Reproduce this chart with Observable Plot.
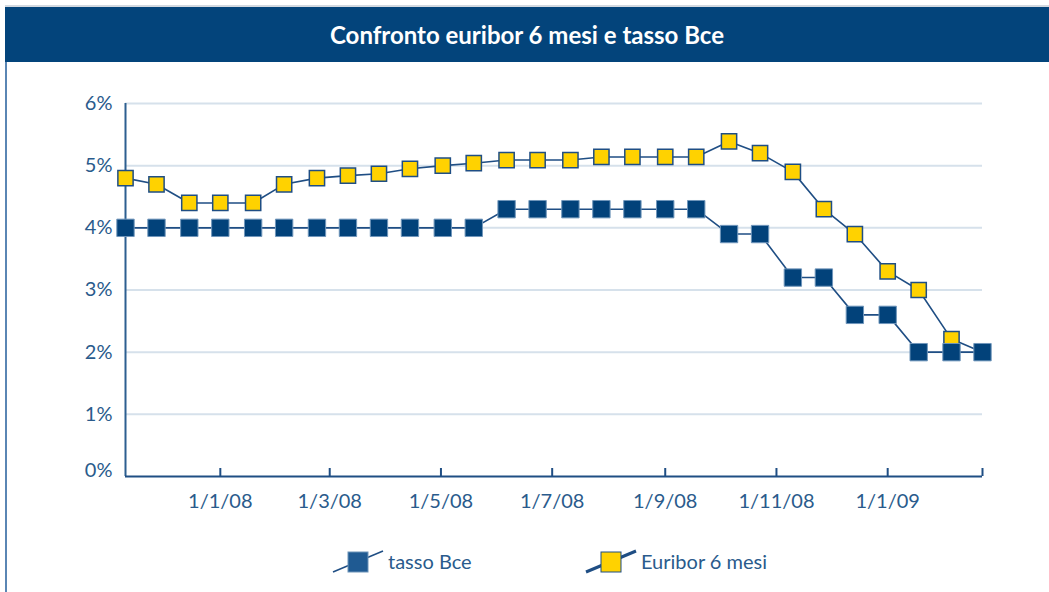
<!DOCTYPE html>
<html>
<head>
<meta charset="utf-8">
<script src="https://cdn.jsdelivr.net/npm/d3@7"></script>
<script src="https://cdn.jsdelivr.net/npm/@observablehq/plot@0.6"></script>
<style>
  html, body { margin: 0; padding: 0; background: #fff; }
  body { width: 1049px; height: 592px; position: relative; overflow: hidden; font-family: Lato, "Open Sans", sans-serif; }
  #topline { position: absolute; left: 5px; top: 5px; width: 1044px; height: 2px; background: #d3d9e0; }
  #title { position: absolute; left: 5px; top: 7px; width: 1044px; height: 55px; background: #03447b; color: #fff;
           font-weight: 700; font-size: 24px; display: flex; align-items: center; justify-content: center; padding-bottom: 1px; box-sizing: border-box; }
  #leftborder { position: absolute; left: 5px; top: 62px; width: 2px; height: 530px; background: #5a86b4; }
  #chart { position: absolute; left: 0; top: 62px; }
  #legend { position: absolute; left: 0; top: 530px; }
</style>
</head>
<body>
<div id="topline"></div>
<div id="title">Confronto euribor 6 mesi e tasso Bce</div>
<div id="leftborder"></div>
<div id="chart"></div>
<div id="legend"></div>
<script>
// ---- data ----
const dates = ["2007-11-10","2007-11-27","2007-12-15","2008-01-01","2008-01-19","2008-02-05","2008-02-23",
  "2008-03-11","2008-03-28","2008-04-14","2008-05-02","2008-05-19","2008-06-06","2008-06-23","2008-07-11",
  "2008-07-28","2008-08-14","2008-09-01","2008-09-18","2008-10-06","2008-10-23","2008-11-10","2008-11-27",
  "2008-12-14","2009-01-01","2009-01-18","2009-02-05","2009-02-22"];
const tassoBce = [4,4,4,4,4,4,4,4,4,4,4,4,4.3,4.3,4.3,4.3,4.3,4.3,4.3,3.9,3.9,3.2,3.2,2.6,2.6,2,2,2];
const euribor6 = [4.8,4.7,4.4,4.4,4.4,4.7,4.8,4.84,4.87,4.95,5.0,5.04,5.09,5.09,5.09,5.14,5.14,5.14,5.14,5.39,5.2,4.9,4.3,3.9,3.3,3.0,2.21,2.0];
const seriesNames = ["tasso Bce", "Euribor 6 mesi"];
const xTickDates = ["2008-01-01","2008-03-01","2008-05-01","2008-07-01","2008-09-01","2008-11-01","2009-01-01"];
const xTickLabels = ["1/1/08","1/3/08","1/5/08","1/7/08","1/9/08","1/11/08","1/1/09"];
const yTicks = [0,1,2,3,4,5,6];
const yTickLabels = ["0%","1%","2%","3%","4%","5%","6%"];

// ---- styles ----
const navy = "#1f4e84";
const bceFill = "#02427a";
const eurFill = "#ffd200";
const gridColor = "#d6e1eb";
const textColor = "#2a5b8c";

const parse = d3.utcParse("%Y-%m-%d");
const rows = dates.map((d, i) => ({date: parse(d), bce: tassoBce[i], eur: euribor6[i]}));
const tickDates = xTickDates.map(parse);
const labelMap = new Map(tickDates.map((d, i) => [+d, xTickLabels[i]]));
const xStart = rows[0].date, xEnd = rows[rows.length - 1].date;
const yFmt = v => yTickLabels[yTicks.indexOf(v)];

const chart = Plot.plot({
  width: 1049, height: 460,
  marginLeft: 125, marginRight: 67, marginTop: 41, marginBottom: 46,
  style: {fontFamily: "Lato, 'Open Sans', sans-serif", fontSize: "20px", color: textColor, background: "transparent", overflow: "visible"},
  x: {type: "utc", domain: [xStart, xEnd], label: null},
  y: {domain: [0, 6], label: null},
  marks: [
    Plot.ruleY(yTicks.filter(v => v > 0), {stroke: gridColor, strokeWidth: 2}),
    Plot.axisY(yTicks.filter(v => v > 0), {tickSize: 0, tickPadding: 13, tickFormat: yFmt, fill: textColor, label: null}),
    Plot.axisY(yTicks.filter(v => v === 0), {tickSize: 0, tickPadding: 13, tickFormat: yFmt, fill: textColor, label: null, dy: -6}),
    Plot.axisX(tickDates, {tickSize: 0, tickPadding: 17, tickFormat: d => labelMap.get(+d), fill: textColor, label: null}),
    Plot.ruleX([xStart], {y1: 0, y2: 6, stroke: "#2d5f90", strokeWidth: 2}),
    Plot.ruleY([0], {stroke: navy, strokeWidth: 2}),
    Plot.ruleX([...tickDates, xEnd], {y1: 0, y2: 0, insetTop: -8, stroke: navy, strokeWidth: 2}),
    Plot.line(rows, {x: "date", y: "eur", stroke: navy, strokeWidth: 1.6}),
    Plot.dot(rows, {x: "date", y: "eur", symbol: "square", r: 8.6, fill: eurFill, stroke: navy, strokeWidth: 1.5}),
    Plot.line(rows, {x: "date", y: "bce", stroke: navy, strokeWidth: 1.6}),
    Plot.dot(rows, {x: "date", y: "bce", symbol: "square", r: 9.8, fill: bceFill, stroke: "#7096bb", strokeWidth: 1})
  ]
});
document.getElementById("chart").appendChild(chart);

// ---- legend ----
const legendSpec = [
  {name: seriesNames[0], fill: "#1f5a92", stroke: "#6d93b8", lineW: 1.5, x: 333},
  {name: seriesNames[1], fill: eurFill, stroke: navy, lineW: 3, x: 586}
];
const lg = d3.select("#legend").append("svg").attr("width", 1049).attr("height", 62);
legendSpec.forEach(s => {
  const g = lg.append("g").attr("transform", `translate(${s.x},0)`);
  g.append("line").attr("x1", 0).attr("y1", 42).attr("x2", 50).attr("y2", 21)
    .attr("stroke", navy).attr("stroke-width", s.lineW);
  g.append("rect").attr("x", 15).attr("y", 22).attr("width", 20).attr("height", 20)
    .attr("fill", s.fill).attr("stroke", s.stroke).attr("stroke-width", 1);
  g.append("text").attr("x", 55).attr("y", 39).text(s.name)
    .attr("fill", textColor).attr("font-size", 20).attr("font-family", "Lato, 'Open Sans', sans-serif");
});
</script>
</body>
</html>
